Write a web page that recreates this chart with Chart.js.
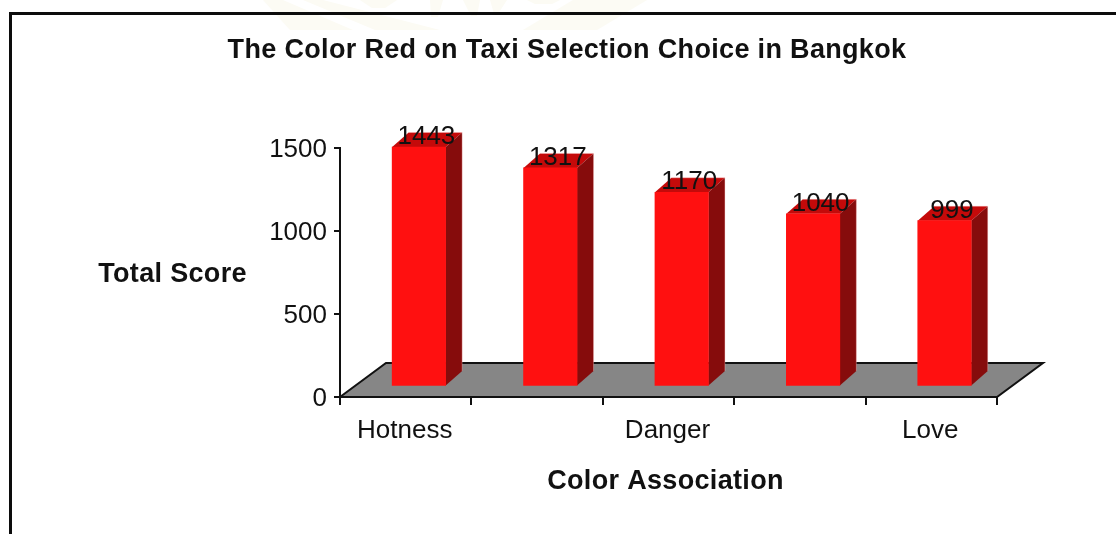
<!DOCTYPE html>
<html>
<head>
<meta charset="utf-8">
<title>Taxi colour chart</title>
<script src="https://cdn.jsdelivr.net/npm/chart.js@4"></script>
<style>
html,body{margin:0;padding:0;background:#fff;}
#wrap{position:relative;width:1116px;height:534px;}
</style>
</head>
<body>
<div id="wrap"><canvas id="myChart" width="1116" height="534"></canvas></div>
<script>
var chartTitle='The Color Red on Taxi Selection Choice in Bangkok';
var yTitle='Total Score';
var xTitle='Color Association';
// every second label is skipped on the axis
var categories=['Hotness','','Danger','','Love'];
var scores=[1443,1317,1170,1040,999];
var yTicks=[0,500,1000,1500];

var fontName='"Liberation Sans", Arial, sans-serif';
var boldGap='0.33px';

//3D look: front face shifted off the axis, depth drawn by hand
var shiftX=13.2, shiftY=-10.5;
var depthX=16.5, depthY=-14.5;

//pale page watermark showing above the frame
var stamp=[
    [[263,0],[283,0],[353,30],[290,30]],
    [[303,0],[323,0],[440,30],[375,30]],
    [[360,0],[397,0],[385,8],[372,8]],
    [[430,0],[443,0],[438,17],[431,17]],
    [[463,0],[480,0],[477,16],[471,16]],
    [[490,0],[507,0],[498,14],[494,14]],
    [[527,0],[560,0],[552,4],[535,4]],
    [[573,0],[647,0],[597,30],[523,30]]
];

function polygon(c,pts){
    c.beginPath();
    pts.forEach(function(p,i){
        if(i===0){c.moveTo(p[0],p[1]);}else{c.lineTo(p[0],p[1]);}
    });
    c.closePath();
}

//canvas text spacing has no chart.js option, so wrap the two draw calls
function spaced(obj,name,dx){
    if(obj['_'+name]){return;}
    var orig=obj[name];
    obj['_'+name]=true;
    obj[name]=function(){
        var c=this.ctx;
        c.save();
        c.letterSpacing=boldGap;
        c.translate(dx,0);
        orig.apply(this,arguments);
        c.restore();
    };
}

var boxPlugin={
    id:'boxPlugin',
    beforeDraw:function(chart){
        var c=chart.ctx;
        spaced(chart.titleBlock,'draw',0);
        spaced(chart.scales.x,'drawTitle',-3);
        c.save();
        c.fillStyle='#fff';
        c.fillRect(0,0,chart.width,chart.height);
        c.fillStyle='#fcfbf4';
        stamp.forEach(function(s){
            polygon(c,s);
            c.fill();
        });
        //frame, no right or bottom edge visible
        c.strokeStyle='#0c0c0c';
        c.lineWidth=3;
        c.beginPath();
        c.moveTo(10.5,chart.height);
        c.lineTo(10.5,13.5);
        c.lineTo(chart.width,13.5);
        c.stroke();
        //horizontal y title
        c.fillStyle='#111';
        c.font='bold 27px '+fontName;
        c.letterSpacing=boldGap;
        c.textAlign='center';
        c.textBaseline='middle';
        c.fillText(yTitle,172.5,275);
        c.restore();
    },
    beforeDatasetsDraw:function(chart){
        var c=chart.ctx;
        var a=chart.chartArea;
        //floor
        c.save();
        polygon(c,[[a.left,a.bottom],[a.left+46,a.bottom-34],[a.right+46,a.bottom-34],[a.right,a.bottom]]);
        c.fillStyle='#868686';
        c.fill();
        c.strokeStyle='#111';
        c.lineWidth=2;
        c.stroke();
        c.restore();

        c.save();
        c.translate(shiftX,shiftY);
        chart.getDatasetMeta(0).data.forEach(function(bar){
            var l=bar.x-bar.width/2, r=bar.x+bar.width/2;
            var backY=bar.y+depthY;
            //top face
            polygon(c,[[l,bar.y],[l+depthX,backY],[r+depthX,backY],[r,bar.y]]);
            c.fillStyle='#c40a0a';
            c.fill();
            //side face
            polygon(c,[[r,bar.y],[r+depthX,backY],[r+depthX,bar.base+depthY],[r,bar.base]]);
            c.fillStyle='#860c0c';
            c.fill();
            //thin light edge around the back
            c.beginPath();
            c.moveTo(l+depthX,backY);
            c.lineTo(r+depthX,backY);
            c.lineTo(r+depthX,bar.base+depthY);
            c.strokeStyle='rgba(255,200,200,0.45)';
            c.lineWidth=0.8;
            c.stroke();
        });
        c.restore();
        //front faces get drawn by chart.js under this shift
        c.save();
        c.translate(shiftX,shiftY);
    },
    afterDatasetsDraw:function(chart){
        var c=chart.ctx;
        c.restore();
        //value labels
        c.save();
        c.fillStyle='#111';
        c.font='26px '+fontName;
        c.textAlign='center';
        c.textBaseline='middle';
        chart.getDatasetMeta(0).data.forEach(function(bar,i){
            c.fillText(scores[i],bar.x+shiftX+7.5,bar.y+shiftY-10);
        });
        c.restore();
    }
};

var ctx=document.getElementById('myChart');
var myChart=new Chart(ctx,{
    type:'bar',
    data:{
        labels:categories,
        datasets:[{
            data:scores,
            backgroundColor:'#ff1010',
            borderWidth:0,
            barThickness:53.5,
            clip:false
        }]
    },
    plugins:[boxPlugin],
    options:{
        responsive:false,
        animation:false,
        layout:{padding:{left:137,right:119,top:0,bottom:0}},
        plugins:{
            legend:{display:false},
            tooltip:{enabled:false},
            title:{
                display:true,
                text:chartTitle,
                color:'#111',
                font:{family:fontName,size:27,weight:'bold',lineHeight:1.2},
                padding:{top:34.5,bottom:81.1}
            }
        },
        scales:{
            x:{
                grid:{display:true,offset:true,drawOnChartArea:false,color:'#111',lineWidth:2,tickLength:8},
                border:{color:'#111',width:2},
                ticks:{
                    color:'#111',
                    autoSkip:false,
                    maxRotation:0,
                    padding:10,
                    labelOffset:-1,
                    font:{family:fontName,size:26}
                },
                title:{
                    display:true,
                    text:xTitle,
                    color:'#111',
                    font:{family:fontName,size:27,weight:'bold',lineHeight:1.2},
                    padding:{top:20,bottom:35.8}
                },
                afterFit:function(scale){scale.height=137;}
            },
            y:{
                min:0,
                max:1500,
                grid:{display:true,drawOnChartArea:false,color:'#111',lineWidth:2,tickLength:6},
                border:{color:'#111',width:2},
                ticks:{
                    color:'#111',
                    padding:7,
                    labelOffset:2,
                    font:{family:fontName,size:26},
                    stepSize:500,
                    callback:function(v){return yTicks.indexOf(v)>=0?v:'';}
                },
                afterFit:function(scale){scale.width=203;}
            }
        }
    }
});
</script>
</body>
</html>
